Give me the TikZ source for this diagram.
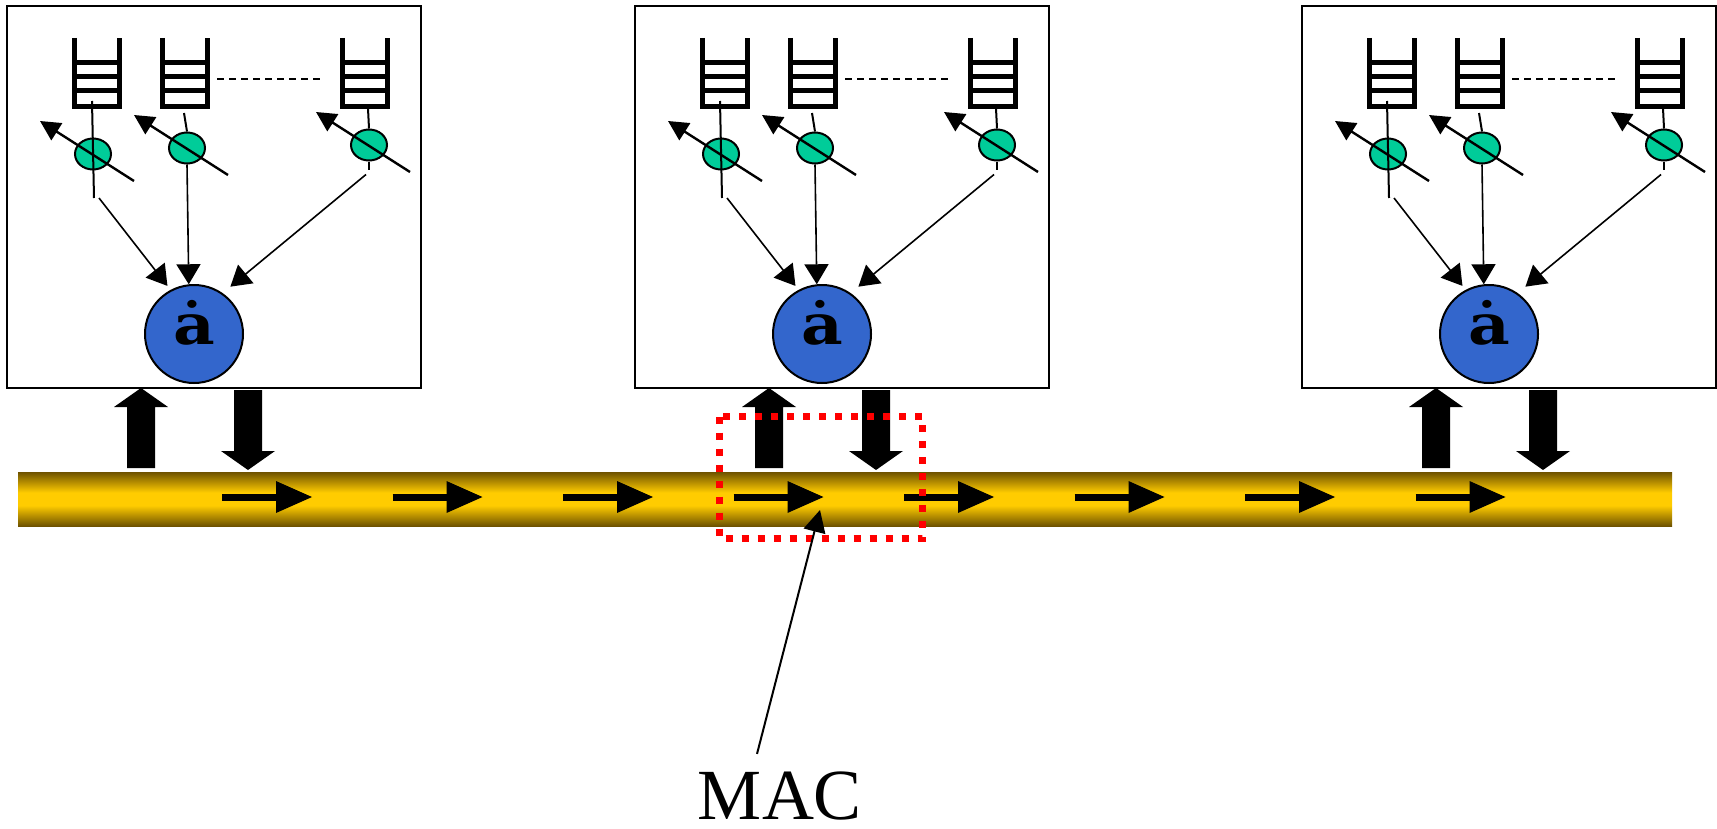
\documentclass[tikz,border=0pt]{standalone}
\usepackage{fontspec}
\setmainfont{Liberation Serif}
\newfontfamily\serverfont{DejaVu Serif}
\usepackage{graphicx}
\usetikzlibrary{arrows.meta,shapes.geometric}

\definecolor{busyellow}{HTML}{FFCC00}
\definecolor{busdark}{HTML}{6E5200}
\definecolor{serverblue}{HTML}{3366CC}
\definecolor{rategreen}{HTML}{00CC99}

\pgfdeclareverticalshading{busshade}{100bp}{color(0bp)=(busdark); color(25bp)=(busdark); color(44bp)=(busyellow); color(56bp)=(busyellow); color(75bp)=(busdark); color(100bp)=(busdark)}

\tikzset{
  queue/.pic={
    \draw[line width=2.5pt, line join=miter] (2.5,0) -- (2.5,68.5) -- (47.5,68.5) -- (47.5,0);
    \foreach \h in {24.5,38.5,52.5} \draw[line width=2.5pt] (2.5,\h) -- (47.5,\h);
  },
  blockarrow/.pic={
    \fill (0,0) -- (27,19) -- (14,19) -- (14,80) -- (-14,80) -- (-14,19) -- (-27,19) -- cycle;
  },
  stationbox/.style={line width=1pt},
  rate/.style={ellipse, draw, line width=1pt, fill=rategreen, minimum width=18pt, minimum height=15.5pt, inner sep=0pt},
  server/.style={circle, draw, line width=1pt, fill=serverblue, minimum size=49pt, inner sep=0pt, font=\serverfont\bfseries\fontsize{28}{28}\selectfont, text depth=12pt},
  adjust/.style={line width=1.2pt, -{Triangle[length=10pt,width=10pt]}},
  feed/.style={line width=0.8pt, -{Triangle[length=10pt,width=12pt]}},
  busarrow/.style={line width=3.5pt, -{Triangle[length=18pt,width=16pt,line width=0pt]}},
  macbox/.style={red, line width=3.5pt, dash pattern=on 3.5pt off 4.5pt},
  pointer/.style={line width=1pt, -{Triangle[length=11pt,width=11pt]}}
}

\begin{document}
\begin{tikzpicture}[x=0.5pt,y=-0.5pt]
  \useasboundingbox (0,0) rectangle (1717,829);
  % Bus
  \shade[shading=busshade] (18,472) rectangle (1672,526);
  \foreach \k in {0,...,7}
    \draw[busarrow] (222+170.5*\k,497) -- ++(90,0);
  % Stations
  \foreach \dx/\i in {0/1,628/2,1295/3}{
    \begin{scope}[shift={(\dx,0)}]
      \draw[stationbox] (7,6) rectangle (421,388);
      % queues
      \pic at (72,38) {queue};
      \pic at (160,38) {queue};
      \pic at (340,38) {queue};
      \draw[line width=1pt, dash pattern=on 3.5pt off 2.5pt] (217,79) -- (322,79);
      % rate regulators
      \node[rate] (r\i1) at (93,154) {};
      \node[rate] (r\i2) at (187,148) {};
      \node[rate] (r\i3) at (369,145) {};
      % server
      \node[server] (s\i) at (194,334) {\scalebox{1.15}[1]{\.{a}}};
      % queue to regulator to server
      \draw[line width=1pt] (r\i1) ++(-1,-53) -- ++(2,97);
      \draw[feed, shorten >=2.5pt] (r\i1) ++(6,44) -- (s\i.118);
      \draw[line width=1pt] (184,113) -- (r\i2.north);
      \draw[feed] (r\i2.south) -- (s\i.96);
      \draw[line width=1pt] (r\i3.north) ++(-1,-20) -- (r\i3.north);
      \draw[line width=1pt] (r\i3.south) -- ++(0,8);
      \draw[feed, shorten >=5pt] (r\i3.south) ++(-3,13) -- (s\i.55);
      \foreach \k in {1,2,3}
        \draw[adjust] (r\i\k) ++(41,27) -- ++(-94,-60);
      % to and from the bus
      \pic at (141,388) {blockarrow};
      \pic[rotate=180] at (248,470) {blockarrow};
    \end{scope}
  }
  % MAC
  \draw[macbox] (719.5,416.5) rectangle (922.5,538.5);
  \node[font=\fontsize{36}{38}\selectfont, inner sep=1pt, anchor=base] (mac) at (780,819) {MAC};
  \coordinate (mactip) at (820,510);
  \draw[pointer] (mac.north) ++(-23,-15) -- (mactip);
\end{tikzpicture}
\end{document}
